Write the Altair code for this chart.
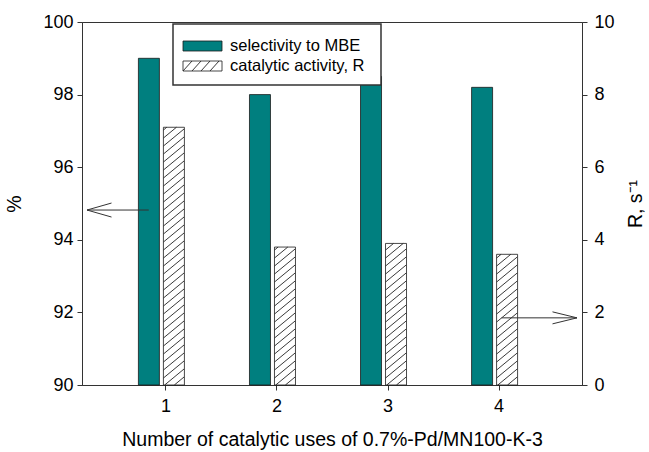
import altair as alt
import pandas as pd

# Catalyst reuse data
uses = [1, 2, 3, 4]
selectivity = [99.0, 98.0, 98.5, 98.2]      # % (left axis)
activity = [7.1, 3.8, 3.9, 3.6]             # R, s^-1 (right axis)

W, H = 500, 363
X0, X1 = 0.294, 4.706
YL0, YL1 = 90, 100
YR0, YR1 = 0, 10
px_x = W / (X1 - X0)
px_yl = H / (YL1 - YL0)
px_yr = H / (YR1 - YR0)

TEAL = "#007f7f"
FONT = "Liberation Sans"

df = pd.DataFrame({"use": uses, "sel": selectivity, "act": activity})

xs = alt.Scale(domain=[X0, X1], nice=False, zero=False)
x_axis = alt.Axis(values=uses, format="d", title="Number of catalytic uses of 0.7%-Pd/MN100-K-3",
                  grid=False, tickSize=5, labelPadding=7, titlePadding=15, titleFontSize=19.5)
yl_scale = alt.Scale(domain=[YL0, YL1], nice=False, zero=False)
yr_scale = alt.Scale(domain=[YR0, YR1], nice=False, zero=False)
yl_axis = alt.Axis(values=[90, 92, 94, 96, 98, 100], grid=False, tickSize=5, labelPadding=4,
                   title="%", titlePadding=18)
yr_axis = alt.Axis(values=[0, 2, 4, 6, 8, 10], grid=False, tickSize=5, labelPadding=7,
                   orient="right", title="R, s⁻¹", titleAngle=270, titlePadding=31)

# Teal bars (selectivity, left scale)
sel_bars = alt.Chart(df).mark_bar(width=21, xOffset=-16.5, color=TEAL, stroke="#1a1a1a",
                                  strokeWidth=0.8).encode(
    x=alt.X("use:Q", scale=xs, axis=x_axis),
    y=alt.Y("sel:Q", scale=yl_scale, axis=yl_axis),
    y2=alt.datum(YL0),
)

# Arrow pointing to the left axis
ya = 94.82
left_arrow_rows = [
    {"x": X0, "x2": X0 + 63 / px_x, "y": ya, "y2": ya},
    {"x": X0, "x2": X0 + 25 / px_x, "y": ya, "y2": ya + 7 / px_yl},
    {"x": X0, "x2": X0 + 25 / px_x, "y": ya, "y2": ya - 7 / px_yl},
]
left_arrow = alt.Chart(pd.DataFrame(left_arrow_rows)).mark_rule(color="#333333", strokeWidth=1).encode(
    x=alt.X("x:Q", scale=xs, axis=x_axis), x2="x2:Q",
    y=alt.Y("y:Q", scale=yl_scale, axis=yl_axis), y2="y2:Q",
)

# Hatched bars (catalytic activity, right scale)
act_bars = alt.Chart(df).mark_bar(width=21, xOffset=8.5, color="white", stroke="#1a1a1a",
                                  strokeWidth=0.8).encode(
    x=alt.X("use:Q", scale=xs, axis=x_axis),
    y=alt.Y("act:Q", scale=yr_scale, axis=yr_axis),
    y2=alt.datum(YR0),
)

# Diagonal hatching inside each activity bar
rise = 17 / px_yr
gap = 8 / px_yr
hatch = []
for u, v in zip(uses, activity):
    xl = u - 2 / px_x
    xr = u + 19 / px_x
    k = 0
    while True:
        yl = k * gap - rise
        if yl > v:
            break
        t0 = max(0.0, (0 - yl) / rise)
        t1 = min(1.0, (v - yl) / rise)
        if t1 > t0:
            hatch.append({"x": xl + t0 * (xr - xl), "x2": xl + t1 * (xr - xl),
                          "y": yl + rise * t0, "y2": yl + rise * t1})
        k += 1
hatch_lines = alt.Chart(pd.DataFrame(hatch)).mark_rule(color="#222222", strokeWidth=0.9).encode(
    x=alt.X("x:Q", scale=xs, axis=x_axis), x2="x2:Q",
    y=alt.Y("y:Q", scale=yr_scale, axis=yr_axis), y2="y2:Q",
)

# Arrow pointing to the right axis
yb = 1.85
right_arrow_rows = [
    {"x": X1 - 77 / px_x, "x2": X1, "y": yb, "y2": yb},
    {"x": X1 - 25 / px_x, "x2": X1, "y": yb + 6 / px_yr, "y2": yb},
    {"x": X1 - 25 / px_x, "x2": X1, "y": yb - 6 / px_yr, "y2": yb},
]
right_arrow = alt.Chart(pd.DataFrame(right_arrow_rows)).mark_rule(color="#333333", strokeWidth=1).encode(
    x=alt.X("x:Q", scale=xs, axis=x_axis), x2="x2:Q",
    y=alt.Y("y:Q", scale=yr_scale, axis=yr_axis), y2="y2:Q",
)

# Legend box drawn in pixel space
one = pd.DataFrame({"k": [0]})
lg_box = alt.Chart(one).mark_rect(fill="white", stroke="#333333", strokeWidth=1.5).encode(
    x=alt.value(91), x2=alt.value(299), y=alt.value(2), y2=alt.value(63))
lg_teal = alt.Chart(one).mark_rect(fill=TEAL, stroke="#1a1a1a", strokeWidth=0.8).encode(
    x=alt.value(101), x2=alt.value(140), y=alt.value(19), y2=alt.value(29))
lg_hatch_box = alt.Chart(one).mark_rect(fill="white", stroke="#1a1a1a", strokeWidth=0.8).encode(
    x=alt.value(101), x2=alt.value(140), y=alt.value(39), y2=alt.value(49))
lg_hatch = [
    alt.Chart(one).mark_rule(color="#222222", strokeWidth=0.9).encode(
        x=alt.value(101 + i * 9), x2=alt.value(101 + i * 9 + 9), y=alt.value(49), y2=alt.value(39))
    for i in range(4)
]
labels = ["selectivity to MBE", "catalytic activity, R"]
lg_text = alt.Chart(pd.DataFrame({"t": labels, "yy": [24, 44]})).mark_text(
    align="left", baseline="middle", fontSize=16.5, font=FONT, color="black").encode(
    x=alt.value(148), y=alt.Y("yy:Q", scale=None), text="t:N")

left = alt.layer(sel_bars, left_arrow)
right = alt.layer(act_bars, hatch_lines, right_arrow)
legend = alt.layer(lg_box, lg_teal, lg_hatch_box, *lg_hatch, lg_text)

chart = alt.layer(left, right, legend).resolve_scale(y="independent").properties(
    width=W, height=H,
    autosize=alt.AutoSizeParams(type="none"),
    padding={"left": 82, "top": 22, "right": 67, "bottom": 67},
).configure_view(stroke="#333333", strokeWidth=1).configure_axis(
    domainColor="#333333", tickColor="#333333", labelColor="black", titleColor="black",
    labelFont=FONT, titleFont=FONT, labelFontSize=18, titleFontSize=19.5, titleFontWeight="normal",
)

chart.save("out.html", embed_options={"renderer": "svg", "actions": False})
